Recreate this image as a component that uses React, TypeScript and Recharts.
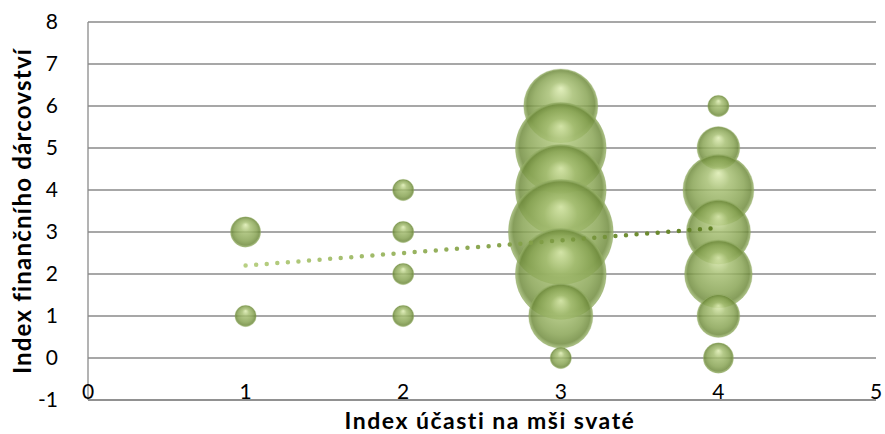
import React from "react"
import {
    ScatterChart,
    Scatter,
    XAxis,
    YAxis,
    ZAxis,
    CartesianGrid,
} from "recharts"

// bubble data: attendance index (x), giving index (y), count (z)
const xValues = [1, 1, 2, 2, 2, 2, 3, 3, 3, 3, 3, 3, 3, 4, 4, 4, 4, 4, 4, 4]
const yValues = [3, 1, 4, 3, 2, 1, 6, 5, 4, 3, 2, 1, 0, 6, 5, 4, 3, 2, 1, 0]
const zValues = [2, 1, 1, 1, 1, 1, 12, 18, 18, 24, 18, 9, 1, 1, 4, 11, 9, 10, 4, 2]

// linear trendline end points
const trendX = [1, 4]
const trendY = [2.2, 3.1]

const xTicks = [0, 1, 2, 3, 4, 5]
const yTicks = [-1, 0, 1, 2, 3, 4, 5, 6, 7, 8]

const bubbles = xValues.map((x, i) => ({ x, y: yValues[i], z: zValues[i] }))
const trend = trendX.map((x, i) => ({ x, y: trendY[i] }))

const font = "Lato, 'Open Sans', sans-serif"
const gridColor = "#8a8a8a"
const maxR = 52.5

function Bubble(props: any) {
    const { cx, cy, width } = props
    if (cx == null || cy == null) return null
    return (
        <circle
            cx={cx}
            cy={cy}
            r={width / 2}
            fill="url(#bubbleFill)"
            stroke="rgba(110,140,60,0.3)"
            strokeWidth={0.6}
            fillOpacity={0.84}
        />
    )
}

function XTick(props: any) {
    const { x, y, payload } = props
    return (
        <text x={x} y={y - 1} textAnchor="middle" fontSize={21} fontFamily={font} fill="#000">
            {payload.value}
        </text>
    )
}

export default function App() {
    return (
        <div style={{ position: "absolute", left: 0, top: 0, width: 885, height: 434, background: "#fff" }}>
            <ScatterChart width={885} height={434} margin={{ top: 22, right: 9, bottom: 0, left: 0 }}>
                <defs>
                    <radialGradient id="bubbleFill" cx="50%" cy="50%" r="50%" fx="50%" fy="26%">
                        <stop offset="0%" stopColor="#dcecb0" />
                        <stop offset="32%" stopColor="#a6bf72" />
                        <stop offset="72%" stopColor="#87a352" />
                        <stop offset="91%" stopColor="#6f8b3c" />
                        <stop offset="100%" stopColor="#a0b973" />
                    </radialGradient>
                    <linearGradient id="trendStroke" x1="0" y1="0" x2="1" y2="0">
                        <stop offset="0%" stopColor="#b8d083" />
                        <stop offset="100%" stopColor="#5f7f22" />
                    </linearGradient>
                </defs>

                <CartesianGrid vertical={false} stroke={gridColor} strokeWidth={1.3} />

                <XAxis
                    type="number"
                    dataKey="x"
                    domain={[0, 5]}
                    ticks={xTicks}
                    allowDataOverflow
                    axisLine={{ stroke: gridColor, strokeWidth: 1.3 }}
                    tickLine={false}
                    tickSize={0}
                    tickMargin={0}
                    height={34}
                    tick={<XTick />}
                    label={{
                        value: "Index účasti na mši svaté",
                        position: "insideBottom",
                        offset: 5,
                        dx: 8,
                        fontSize: 23,
                        fontWeight: 700,
                        fontFamily: font,
                        fill: "#000",
                        style: { letterSpacing: "1.5px" },
                    }}
                />

                <YAxis
                    type="number"
                    dataKey="y"
                    domain={[-1, 8]}
                    ticks={yTicks}
                    allowDataOverflow
                    width={88}
                    axisLine={{ stroke: gridColor, strokeWidth: 1.3 }}
                    tickLine={false}
                    tickMargin={24}
                    tick={{ fontSize: 21, fontFamily: font, fill: "#000" }}
                    label={{
                        value: "Index finančního dárcovství",
                        angle: -90,
                        position: "insideLeft",
                        offset: 22,
                        style: { textAnchor: "middle", letterSpacing: "1.2px" },
                        fontSize: 24,
                        fontWeight: 700,
                        fontFamily: font,
                        fill: "#000",
                    }}
                />

                <ZAxis type="number" dataKey="z" domain={[0, 24]} range={[0, Math.PI * maxR * maxR]} />

                <Scatter data={bubbles} shape={<Bubble />} isAnimationActive={false} />

                <Scatter
                    data={trend}
                    shape={() => null}
                    line={{
                        stroke: "url(#trendStroke)",
                        strokeWidth: 4.5,
                        strokeDasharray: "0 10.6",
                        strokeLinecap: "round",
                    }}
                    isAnimationActive={false}
                />
            </ScatterChart>
        </div>
    )
}
